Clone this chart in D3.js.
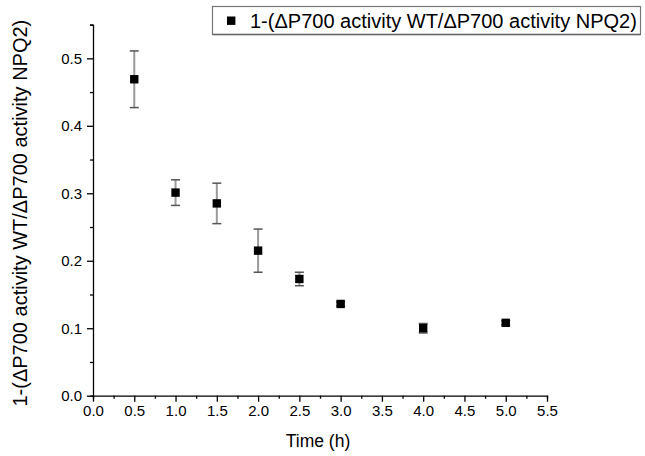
<!DOCTYPE html>
<html>
<head>
<meta charset="utf-8">
<script src="https://cdn.jsdelivr.net/npm/d3@7"></script>
<style>
  html, body { margin: 0; padding: 0; background: #fff; }
  svg { display: block; font-family: Arial, "Liberation Sans", sans-serif; }
</style>
</head>
<body>
<svg id="chart" width="645" height="456"></svg>
<script>
// ---- data ----
const times  = [0.5, 1.0, 1.5, 2.0, 2.5, 3.0, 4.0, 5.0];
const values = [0.469, 0.301, 0.285, 0.215, 0.173, 0.136, 0.100, 0.108];
const errors = [0.042, 0.019, 0.030, 0.032, 0.010, 0.003, 0.007, 0.003];
const xTicks = [0, 0.5, 1.0, 1.5, 2.0, 2.5, 3.0, 3.5, 4.0, 4.5, 5.0, 5.5];
const yTicks = [0, 0.1, 0.2, 0.3, 0.4, 0.5];
const seriesName = "1-(\u0394P700 activity WT/\u0394P700 activity NPQ2)";
const xTitle = "Time (h)";
const yTitle = "1-(\u0394P700 activity WT/\u0394P700 activity NPQ2)";

const svg = d3.select("#chart");
const x = d3.scaleLinear().domain([0, 5.5]).range([93, 547]);
const y = d3.scaleLinear().domain([0, 0.55]).range([395.7, 24.6]);

const fmt = d3.format(".1f");
const FONT = "Arial, 'Liberation Sans', sans-serif";

// x axis
const gx = svg.append("g").attr("transform", `translate(0,${y(0)})`);
gx.call(d3.axisBottom(x).tickValues(d3.range(0, 5.5001, 0.25)).tickSize(3).tickFormat(""));
gx.call(g => g.selectAll(".tick").filter(d => Math.abs(d*2 - Math.round(d*2)) < 1e-6).select("line").attr("y2", 6));
gx.selectAll(".tick text").remove();
const gxl = svg.append("g").attr("transform", `translate(0,${y(0)})`);
gxl.call(d3.axisBottom(x).tickValues(xTicks).tickSize(0).tickPadding(10).tickFormat(fmt));
gxl.select(".domain").remove();
gxl.selectAll("text").attr("font-size", 15).attr("fill", "#000").attr("font-family", FONT);

// y axis
const gy = svg.append("g").attr("transform", `translate(${x(0)},0)`);
gy.call(d3.axisLeft(y).tickValues(d3.range(0, 0.5501, 0.05)).tickSize(3).tickFormat(""));
gy.call(g => g.selectAll(".tick").filter(d => Math.abs(d*10 - Math.round(d*10)) < 1e-6).select("line").attr("x2", -6));
gy.selectAll(".tick text").remove();
const gyl = svg.append("g").attr("transform", `translate(${x(0)},0)`);
gyl.call(d3.axisLeft(y).tickValues(yTicks).tickSize(0).tickPadding(11).tickFormat(fmt));
gyl.select(".domain").remove();
gyl.selectAll("text").attr("font-size", 15).attr("fill", "#000").attr("font-family", FONT);

[gx, gy].forEach(g => {
  g.select(".domain").attr("stroke", "#000").attr("stroke-width", 1.3);
  g.selectAll(".tick line").attr("stroke", "#000").attr("stroke-width", 1.3);
});

// titles
svg.append("text").attr("x", (x(0) + x(5.5)) / 2 - 2).attr("y", 447)
  .attr("text-anchor", "middle").attr("font-size", 17.5).attr("font-family", FONT).text(xTitle);
svg.append("text").attr("transform", `translate(27,${(y(0)+y(0.55))/2 + 3}) rotate(-90)`)
  .attr("text-anchor", "middle").attr("font-size", 20).attr("font-family", FONT).text(yTitle);

// error bars
const data = times.map((t, i) => ({t, v: values[i], e: errors[i]}));
const eb = svg.append("g");
eb.selectAll("line.v").data(data).join("line")
  .attr("x1", d => x(d.t)).attr("x2", d => x(d.t))
  .attr("y1", d => y(d.v + d.e)).attr("y2", d => y(d.v - d.e))
  .attr("stroke", "#9a9a9a").attr("stroke-width", 2);
eb.selectAll("line.top").data(data).join("line")
  .attr("x1", d => x(d.t) - 4.5).attr("x2", d => x(d.t) + 4.5)
  .attr("y1", d => y(d.v + d.e)).attr("y2", d => y(d.v + d.e))
  .attr("stroke", "#555").attr("stroke-width", 1.5);
eb.selectAll("line.bot").data(data).join("line")
  .attr("x1", d => x(d.t) - 4.5).attr("x2", d => x(d.t) + 4.5)
  .attr("y1", d => y(d.v - d.e)).attr("y2", d => y(d.v - d.e))
  .attr("stroke", "#555").attr("stroke-width", 1.5);

// markers
svg.append("g").selectAll("rect").data(data).join("rect")
  .attr("x", d => x(d.t) - 4.2).attr("y", d => y(d.v) - 4.2)
  .attr("width", 8.4).attr("height", 8.4).attr("fill", "#000");

// legend
const lg = svg.append("g");
lg.append("rect").attr("x", 212.5).attr("y", 6.5).attr("width", 428).attr("height", 28)
  .attr("fill", "#fff").attr("stroke", "#777").attr("stroke-width", 1.2);
lg.append("line").attr("x1", 212.5).attr("x2", 640.5).attr("y1", 34.5).attr("y2", 34.5)
  .attr("stroke", "#666").attr("stroke-width", 1.6);
lg.append("rect").attr("x", 227).attr("y", 16.5).attr("width", 8.4).attr("height", 8.4).attr("fill", "#000");
lg.append("text").attr("x", 250).attr("y", 28).attr("font-size", 20).attr("font-family", FONT).text(seriesName);
</script>
</body>
</html>
